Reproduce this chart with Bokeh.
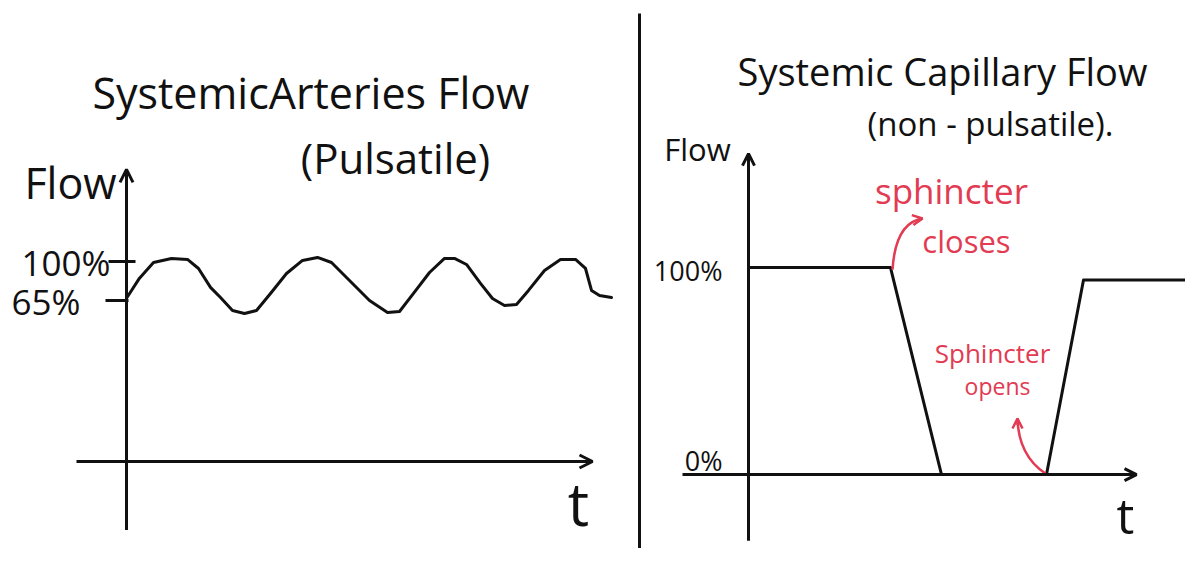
from bokeh.plotting import figure
from bokeh.layouts import row
from bokeh.models import Arrow, OpenHead
from bokeh.core.properties import value
from bokeh.embed import file_html
from bokeh.resources import INLINE

# ---------------- data ----------------
# Systemic arteries: pulsatile flow (time in arbitrary units, flow in %)
art_t = [0.00, 0.13, 0.27, 0.45, 0.61, 0.72, 0.84, 0.94, 1.06, 1.18, 1.30, 1.44,
         1.60, 1.76, 1.91, 2.05, 2.23, 2.43, 2.61, 2.73, 2.87, 3.03, 3.18, 3.28,
         3.40, 3.54, 3.66, 3.78, 3.90, 4.02, 4.18, 4.34, 4.49, 4.59, 4.65, 4.73, 4.85]
art_flow = [67, 85, 99, 102.7, 101.8, 93.7, 76.7, 67.7, 56, 53.3, 56, 71.3,
            89.2, 100.9, 103.6, 99.1, 82.9, 65, 54.2, 55.1, 71.3, 90.1, 102.7, 102.7,
            97.3, 80.3, 66.8, 60.5, 61.4, 74, 91.9, 101.8, 101.8, 93.7, 74, 69.5, 67.7]
art_tick_values = [65, 100]
art_tick_labels = ["65%", "100%"]

# Systemic capillaries: non-pulsatile flow (sphincter closes, then opens)
cap_t = [0.0, 1.42, 1.93, 2.98, 3.35, 4.6]
cap_flow = [100, 100, 0, 0, 94, 94]
cap_tick_values = [0, 100]
cap_tick_labels = ["0%", "100%"]

FONT = value("Open Sans")
BLACK = "#111111"
RED = "#e23b52"
LW = 3


def base_fig(w, xr, yr):
    p = figure(width=w, height=548, x_range=xr, y_range=yr,
               output_backend="svg", toolbar_location=None,
               min_border=0, outline_line_color=None)
    p.axis.visible = False
    p.grid.visible = False
    p.background_fill_color = "white"
    return p


def txt(p, x, y, s, size, color=BLACK, align="center"):
    p.text(x=x, y=y, text=s, text_font=FONT, text_font_size=size,
           text_align=align, text_baseline="middle", text_color=color)


# ---------------- left panel ----------------
p1 = base_fig(636, (-1.26, 5.10), (-157.6, 334.2))
p1.add_layout(Arrow(x_start=0, y_start=-141, x_end=0, y_end=182.6,
                    line_width=LW, line_color=BLACK,
                    end=OpenHead(size=13, line_width=LW, line_color=BLACK)))
p1.add_layout(Arrow(x_start=-0.5, y_start=-79.5, x_end=4.66, y_end=-79.5,
                    line_width=LW, line_color=BLACK,
                    end=OpenHead(size=13, line_width=LW, line_color=BLACK)))
p1.segment(x0=[-0.21, -0.18], y0=art_tick_values, x1=[0.02, 0.09], y1=art_tick_values,
           line_width=LW, line_color=BLACK)
txt(p1, [-0.46, -0.16], [64, 99.5], art_tick_labels, "35px", align="right")
p1.line(art_t, art_flow, line_width=LW, line_color=BLACK,
        line_join="round", line_cap="round")
txt(p1, [1.90], [252], ["SystemicArteries  Flow"], "43px")
txt(p1, [2.69], [193], ["(Pulsatile)"], "42px")
txt(p1, [-0.56], [171], ["Flow"], "43px")
txt(p1, [4.52], [-117], ["t"], "60px")

# ---------------- right panel ----------------
p2 = base_fig(549, (-1.12, 4.37), (-35.7, 229.0))
p2.line(x=[-1.09, -1.09], y=[222.7, -45], line_width=LW, line_color=BLACK)
p2.add_layout(Arrow(x_start=0, y_start=-32, x_end=0, y_end=155,
                    line_width=LW, line_color=BLACK,
                    end=OpenHead(size=12, line_width=LW, line_color=BLACK)))
p2.add_layout(Arrow(x_start=-0.66, y_start=0, x_end=3.88, y_end=0,
                    line_width=LW, line_color=BLACK,
                    end=OpenHead(size=12, line_width=LW, line_color=BLACK)))
txt(p2, [-0.26, -0.26], [7, 98.6], cap_tick_labels, "27px", align="right")
p2.line(cap_t, cap_flow, line_width=LW, line_color=BLACK, line_join="round")
txt(p2, [1.94], [195], ["Systemic Capillary Flow"], "38px")
txt(p2, [2.42], [169.6], ["(non - pulsatile)."], "33px")
txt(p2, [-0.51], [157.5], ["Flow"], "31px")
txt(p2, [3.77], [-19.3], ["t"], "50px")
# red annotations
txt(p2, [2.03], [137.2], ["sphincter"], "35px", color=RED)
txt(p2, [2.18], [113.0], ["closes"], "31px", color=RED)
txt(p2, [2.44], [58.9], ["Sphincter"], "26px", color=RED)
txt(p2, [2.49], [43.0], ["opens"], "23px", color=RED)
p2.quadratic(x0=[1.44, 2.97], y0=[99, 0.5], x1=[1.74, 2.69], y1=[123.7, 27.1],
             cx=[1.47, 2.70], cy=[121.7, 9.2], line_color=RED, line_width=2.5)
p2.add_layout(Arrow(x_start=1.70, y_start=123.4, x_end=1.74, y_end=123.7,
                    line_width=2.5, line_color=RED,
                    end=OpenHead(size=10, line_width=2.5, line_color=RED)))
p2.add_layout(Arrow(x_start=2.69, y_start=24, x_end=2.69, y_end=27.1,
                    line_width=2.5, line_color=RED,
                    end=OpenHead(size=10, line_width=2.5, line_color=RED)))

layout = row(p1, p2, spacing=0)
open("out.html", "w").write(file_html(layout, INLINE))
